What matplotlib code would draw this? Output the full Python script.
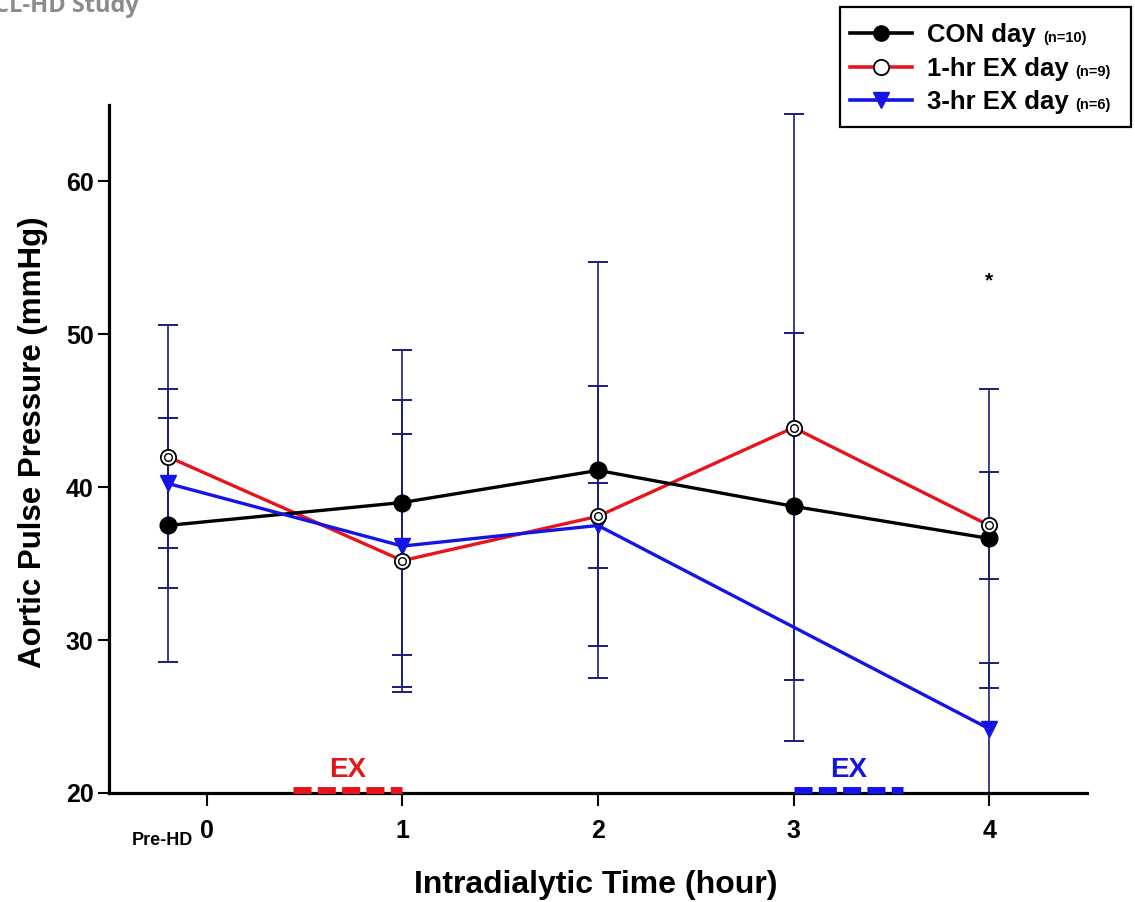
import numpy as np
import matplotlib
matplotlib.use("Agg")
import matplotlib.pyplot as plt
from matplotlib.lines import Line2D
from matplotlib.patches import Rectangle
import matplotlib.transforms as mtransforms

plt.rcParams['font.family'] = ['Liberation Sans', 'DejaVu Sans']
plt.rcParams['font.weight'] = 'bold'
plt.rcParams['axes.labelweight'] = 'bold'

# data (mean and SD, mmHg)
times = np.array([-0.2, 1, 2, 3, 4])
con_mean = np.array([37.5, 39.0, 41.1, 38.75, 36.65])
con_sd = np.array([8.95, 10.0, 13.6, 11.35, 9.8])
ex1_mean = np.array([42.0, 35.2, 38.1, 43.9, 37.5])
ex1_sd = np.array([8.6, 8.25, 8.5, 20.5, 3.5])
ex3_mean = np.array([40.25, 36.15, 37.5, np.nan, 24.2])
ex3_sd = np.array([4.25, 9.55, 2.8, np.nan, 4.3])

labels = ['CON day', '1-hr EX day', '3-hr EX day']
n_labels = ['(n=10)', '(n=9)', '(n=6)']
ex_periods = [(0.44, 1.0), (3.0, 3.56)]

W, H = 1135, 902
fig = plt.figure(figsize=(W / 100, H / 100), dpi=100)
ax = fig.add_axes([109 / W, 1 - 793 / H, 978 / W, 688 / H])

navy = '#1c1c7c'
red = '#e8141c'
blue = '#1414e6'

# error bars (all drawn in navy)
for m, s in [(con_mean, con_sd), (ex1_mean, ex1_sd), (ex3_mean, ex3_sd)]:
    ok = ~np.isnan(m)
    ax.errorbar(times[ok], m[ok], yerr=s[ok], fmt='none', ecolor=navy,
                elinewidth=1.2, capsize=7.5, capthick=1.4, zorder=2)

ax.plot(times, con_mean, color='black', lw=2.4, marker='o', ms=12,
        mfc='black', mec='black', zorder=4)
ax.plot(times, ex1_mean, color=red, lw=2.4, zorder=3)
ax.plot(times, ex1_mean, ls='none', marker='o', ms=11, mfc='white',
        mec='black', mew=1.3, zorder=5)
ax.plot(times, ex1_mean, ls='none', marker='o', ms=5.5, mfc='none',
        mec='black', mew=1.0, zorder=6)
ok3 = ~np.isnan(ex3_mean)
ax.plot(times[ok3], ex3_mean[ok3], color=blue, lw=2.4, marker='v', ms=11,
        mfc=blue, mec=blue, zorder=4)

# exercise periods on the time axis
for (x0, x1), c in zip(ex_periods, [red, blue]):
    ax.plot([x0, x1], [20.2, 20.2], color=c, lw=5, dashes=(2.6, 0.9),
            clip_on=False, zorder=7)
    ax.text((x0 + x1) / 2, 20.65, 'EX', color=c, fontsize=20,
            ha='center', va='bottom')

ax.text(4, 53.5, '*', fontsize=15, ha='center', va='center')

ax.set_xlim(-0.5, 4.5)
ax.set_ylim(20, 65)
ax.set_xticks([0, 1, 2, 3, 4])
ax.set_xticklabels(['0', '1', '2', '3', '4'])
ax.set_yticks([20, 30, 40, 50, 60])
ax.tick_params(axis='x', length=9, width=1.5, pad=10, labelsize=18)
ax.tick_params(axis='y', length=8, width=1.5, pad=3, labelsize=18)
trans = mtransforms.blended_transform_factory(ax.transData, ax.transAxes)
ax.text(-0.07, -0.0755, 'Pre-HD', fontsize=13, ha='right', va='baseline',
        transform=trans)

for side in ['top', 'right']:
    ax.spines[side].set_visible(False)
for side in ['left', 'bottom']:
    ax.spines[side].set_linewidth(2.3)

ax.set_ylabel('Aortic Pulse Pressure (mmHg)', fontsize=22.5)
ax.yaxis.set_label_coords(-0.062, 0.51)
ax.set_xlabel('Intradialytic Time (hour)', fontsize=23, va='top')
ax.xaxis.set_label_coords(0.498, -0.112)

# cropped study title in the corner
fig.text(-6 / W, 1 - 12 / H, 'CL-HD Study', color='#8c8c8c', fontsize=17,
         family='Open Sans', ha='left', va='baseline')

# legend box drawn by hand
def fx(px):
    return px / W


def fy(py):
    return 1 - py / H


fig.add_artist(Rectangle((fx(840), fy(127)), fx(1131) - fx(840), fy(7) - fy(127),
                         transform=fig.transFigure, fill=False, lw=1.6,
                         edgecolor='black'))
rows = [33, 67, 100]
styles = [dict(color='black', marker='o', ms=11, mfc='black', mec='black'),
          dict(color=red, marker='o', ms=11, mfc='white', mec='black', mew=1.3),
          dict(color=blue, marker='v', ms=11, mfc=blue, mec=blue)]
main_texts = []
for yrow, st, lab in zip(rows, styles, labels):
    fig.add_artist(Line2D([fx(850), fx(912)], [fy(yrow), fy(yrow)],
                          transform=fig.transFigure, lw=2.6, color=st['color']))
    fig.add_artist(Line2D([fx(881)], [fy(yrow)], transform=fig.transFigure,
                          ls='none', **{k: v for k, v in st.items() if k != 'color'}))
    t = fig.text(fx(927), fy(yrow + 9), lab, fontsize=18.5, ha='left',
                 va='baseline')
    main_texts.append(t)

fig.canvas.draw()
rend = fig.canvas.get_renderer()
for t, nl, yrow in zip(main_texts, n_labels, rows):
    bb = t.get_window_extent(rend)
    fig.text((bb.x1 + 7) / W, fy(yrow + 9), nl, fontsize=10.5, ha='left',
             va='baseline')

fig.savefig('out.png', dpi=100)
